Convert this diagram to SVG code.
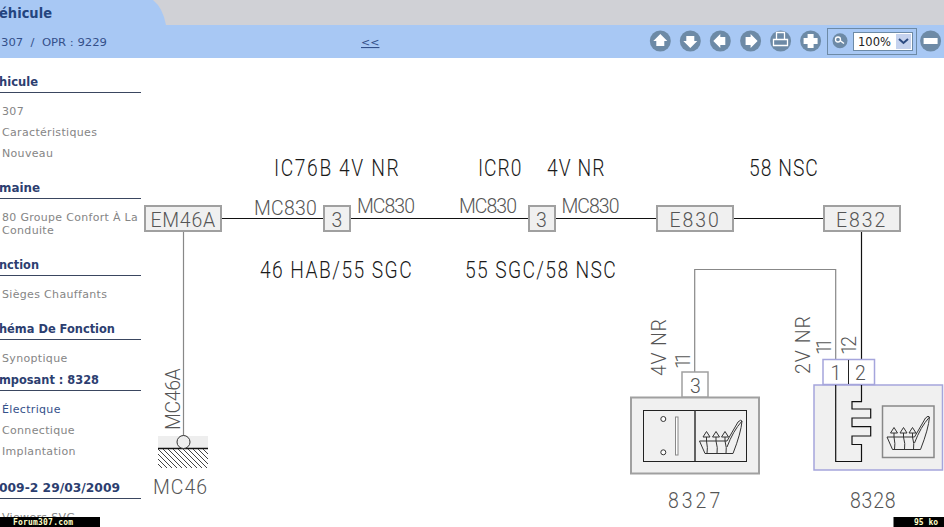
<svg xmlns="http://www.w3.org/2000/svg" width="944" height="527" viewBox="0 0 944 527">
<style>
.side{font-family:"DejaVu Sans",sans-serif;font-size:11px;fill:#858585;letter-spacing:.33px}
.head{font-family:"DejaVu Sans",sans-serif;font-size:11.500px;font-weight:bold;fill:#2c3e70}
.rule{stroke:#3a4660;stroke-width:1;fill:none}
.t{font-family:Roboto,"Liberation Sans",sans-serif;font-weight:300;fill:#1a1a1a;font-size:23.500px}
.g{font-family:Roboto,"Liberation Sans",sans-serif;font-weight:300;fill:#555;font-size:20.500px}
.box{fill:#f0f0f0;stroke:#a0a0a0;stroke-width:2}
.pin{fill:#fff;stroke:#a0a0a0;stroke-width:1.5}
.w{stroke:#111;stroke-width:1.2;fill:none}
.wg{stroke:#888;stroke-width:1.2;fill:none}
.ic{fill:#6d8aa6}
.icf{fill:#fff}
.bar{font-family:"DejaVu Sans Mono",monospace;font-size:8px;font-weight:bold;fill:#ffffc8}
.seat{fill:none;stroke:#333;stroke-width:1}
</style>
<defs>
<clipPath id="hatchclip"><rect x="158" y="449" width="50" height="19"/></clipPath>
<g id="seat">
<path class="seat" d="M699.500 441H727L738 422Q741 419 742 421Q741 433 733 453.500H705Z"/>
<path class="seat" d="M727 447Q733 431 742 421"/>
<path class="seat" d="M706.500 437V441Q708 448 707 453.500M716 437V441Q718 448 717 453.500M725 437V441Q727 448 726 453.500"/>
<path class="seat" d="M706.500 431.500L710 437H703ZM716 431.500L719.500 437H712.500ZM725 431.500L728.500 437H721.500Z"/>
</g>
</defs>
<rect width="944" height="527" fill="#fff"/>
<g id="banner">
<rect y="0" width="944" height="25" fill="#d0d1d6"/>
<path d="M0 0H153Q163 8 166 25V58H0Z" fill="#a8c8f4"/>
<rect y="25" width="944" height="33" fill="#a8c8f4"/>
<text x="-1" y="18" font-family="DejaVu Sans,sans-serif" font-size="14.500" font-weight="bold" fill="#24457f" textLength="53" lengthAdjust="spacingAndGlyphs">éhicule</text>
<text x="1" y="46" font-family="DejaVu Sans,sans-serif" font-size="11" fill="#34508a" xml:space="preserve" textLength="106" lengthAdjust="spacingAndGlyphs">307  /  OPR : 9229</text>
<text x="361" y="46" font-family="DejaVu Sans,sans-serif" font-size="11" fill="#34508a" text-decoration="underline">&lt;&lt;</text>
</g>
<g id="toolbar">
<circle class="ic" cx="660.300" cy="41" r="10.500"/><path class="icf" d="M660.300 34l7 7h-3v5h-8v-5h-3z"/>
<circle class="ic" cx="690.300" cy="41" r="10.500"/><path class="icf" d="M690.300 48l-7-7h3v-5h8v5h3z"/>
<circle class="ic" cx="720.300" cy="41" r="10.500"/><path class="icf" d="M713.300 41l7-7v3h5v8h-5v3z"/>
<circle class="ic" cx="750.600" cy="41" r="10.500"/><path class="icf" d="M757.600 41l-7-7v3h-5v8h5v3z"/>
<circle class="ic" cx="780.600" cy="41" r="10.500"/><path d="M776.500 32.500h8v7h-8zM773.500 39.500h14v6h-14z" fill="none" stroke="#fff" stroke-width="1.300"/>
<circle class="ic" cx="810.600" cy="41" r="10.500"/><path class="icf" d="M807.600 34h6v4h4v6h-4v4h-6v-4h-4v-6h4z"/>
<rect x="827.500" y="28.500" width="89" height="26" fill="none" stroke="#6d8aa6"/>
<circle class="ic" cx="840" cy="40.700" r="7.500"/><circle cx="838" cy="39.500" r="2.500" fill="none" stroke="#fff" stroke-width="1.300"/><path d="M840 40.500l4 3" stroke="#fff" stroke-width="1.500"/>
<rect x="853.500" y="32.500" width="59" height="18" fill="#fff" stroke="#6d8aa6"/>
<text x="858" y="46" font-family="DejaVu Sans,sans-serif" font-size="11.500" fill="#222">100%</text>
<rect x="896" y="34" width="15" height="15" fill="#c5d2ee"/>
<path d="M899 39l4.500 4 4.500-4" fill="none" stroke="#2c4a80" stroke-width="2"/>
<circle class="ic" cx="930.600" cy="41" r="10.500"/><rect class="icf" x="923.600" y="38" width="14" height="6"/>
</g>
<g id="sidebar">
<text class="head" x="-1" y="86" textLength="39" lengthAdjust="spacingAndGlyphs">hicule</text><path class="rule" d="M0 92.500H141"/>
<text class="side" x="2" y="115">307</text>
<text class="side" x="2" y="136">Caractéristiques</text>
<text class="side" x="2" y="157">Nouveau</text>
<text class="head" x="-1" y="192" textLength="41" lengthAdjust="spacingAndGlyphs">maine</text><path class="rule" d="M0 198.500H141"/>
<text class="side" x="2" y="221" textLength="136" lengthAdjust="spacingAndGlyphs">80 Groupe Confort À La</text>
<text class="side" x="2" y="234">Conduite</text>
<text class="head" x="-1" y="269" textLength="40" lengthAdjust="spacingAndGlyphs">nction</text><path class="rule" d="M0 275.500H141"/>
<text class="side" x="2" y="298">Sièges Chauffants</text>
<text class="head" x="-1" y="333" textLength="116" lengthAdjust="spacingAndGlyphs">héma De Fonction</text><path class="rule" d="M0 339.500H141"/>
<text class="side" x="2" y="362">Synoptique</text>
<text class="head" x="-1" y="384" textLength="100" lengthAdjust="spacingAndGlyphs">mposant : 8328</text><path class="rule" d="M0 390.500H141"/>
<text class="side" x="2" y="413" style="fill:#34508a">Électrique</text>
<text class="side" x="2" y="434">Connectique</text>
<text class="side" x="2" y="455">Implantation</text>
<text class="head" x="-1" y="492" textLength="121" lengthAdjust="spacingAndGlyphs">009-2 29/03/2009</text><path class="rule" d="M0 498.500H141"/>
<text class="side" x="2" y="521">Viewers SVG</text>
</g>
<g id="connectors">
<path class="w" d="M222 218.500H323M351 218.500H528M556 218.500H656M734 218.500H823"/>
<path class="wg" d="M183.500 232V436"/>
<path class="wg" d="M694.700 372V269.500H835.700V359"/>
<path class="w" d="M861.500 232V359"/>
</g>
<g id="labels">
<text class="t" transform="translate(274 176) scale(.82 1)" textLength="152" lengthAdjust="spacing">IC76B 4V NR</text>
<text class="t" transform="translate(478 176) scale(.82 1)" textLength="53" lengthAdjust="spacing">ICR0</text>
<text class="t" transform="translate(547 176) scale(.82 1)" textLength="70" lengthAdjust="spacing">4V NR</text>
<text class="t" transform="translate(749 176) scale(.82 1)" textLength="84" lengthAdjust="spacing">58 NSC</text>
<text class="t" transform="translate(260 278) scale(.82 1)" textLength="185" lengthAdjust="spacing">46 HAB/55 SGC</text>
<text class="t" transform="translate(465 278) scale(.82 1)" textLength="184" lengthAdjust="spacing">55 SGC/58 NSC</text>
<text class="g" transform="translate(254 215) scale(.95 1)" textLength="66" lengthAdjust="spacing">MC830</text>
<text class="g" transform="translate(357 213) scale(.95 1)" textLength="61" lengthAdjust="spacing">MC830</text>
<text class="g" transform="translate(459 213) scale(.95 1)" textLength="61" lengthAdjust="spacing">MC830</text>
<text class="g" transform="translate(561.500 213) scale(.95 1)" textLength="61" lengthAdjust="spacing">MC830</text>
<text class="g" transform="translate(180 430) rotate(-90) scale(.95 1)" textLength="65" lengthAdjust="spacing">MC46A</text>
<text class="g" transform="translate(153 494) scale(.95 1)" textLength="57" lengthAdjust="spacing">MC46</text>
<text class="g" transform="translate(666 376) rotate(-90) scale(.95 1)" textLength="60" lengthAdjust="spacing">4V NR</text>
<text class="g" transform="translate(690 369) rotate(-90) scale(.95 1)" textLength="18" lengthAdjust="spacing">11</text>
<text class="g" transform="translate(810 374) rotate(-90) scale(.95 1)" textLength="61" lengthAdjust="spacing">2V NR</text>
<text class="g" transform="translate(830.500 355) rotate(-90) scale(.95 1)" textLength="18" lengthAdjust="spacing">11</text>
<text class="g" transform="translate(856 355) rotate(-90) scale(.95 1)" textLength="20" lengthAdjust="spacing">12</text>
<text class="g" transform="translate(668 508.300) scale(.95 1.040)" textLength="55" lengthAdjust="spacing">8327</text>
<text class="g" transform="translate(850 508.300) scale(.95 1.040)" textLength="48" lengthAdjust="spacing">8328</text>
</g>
<g id="EM46A"><rect class="box" x="145" y="206" width="76" height="25"/><text class="g" transform="translate(150.500 227) scale(.95 1)" textLength="68" lengthAdjust="spacing">EM46A</text></g>
<g id="c3a"><rect class="box" x="324" y="206" width="26" height="25"/><text class="g" transform="translate(331.500 227) scale(.95 1)">3</text></g>
<g id="c3b"><rect class="box" x="529" y="206" width="26" height="25"/><text class="g" transform="translate(536 227) scale(.95 1)">3</text></g>
<g id="E830"><rect class="box" x="657" y="206" width="76" height="25"/><text class="g" transform="translate(669.500 227) scale(.95 1)" textLength="52" lengthAdjust="spacing">E830</text></g>
<g id="E832"><rect class="box" x="824" y="206" width="76" height="25"/><text class="g" transform="translate(836 227) scale(.95 1)" textLength="52" lengthAdjust="spacing">E832</text></g>
<g id="MC46">
<rect x="158" y="436" width="50" height="13" fill="#eee"/>
<path d="M158 448.500H208" stroke="#111" stroke-width="1.500"/>
<g clip-path="url(#hatchclip)"><path d="M138 449l20 20M143 449l20 20M148 449l20 20M153 449l20 20M158 449l20 20M163 449l20 20M168 449l20 20M173 449l20 20M178 449l20 20M183 449l20 20M188 449l20 20M193 449l20 20M198 449l20 20M203 449l20 20" stroke="#444" stroke-width="1"/></g>
<circle cx="183.500" cy="442" r="6.500" fill="#eee" stroke="#333"/>
</g>
<g id="n8327">
<rect x="631" y="397.500" width="128" height="76" fill="#f0f0f0" stroke="#a0a0a0" stroke-width="2"/>
<rect class="pin" x="682" y="372" width="26" height="25"/>
<text class="g" transform="translate(690 392.700) scale(.95 1)">3</text>
<rect x="643.500" y="410.500" width="103" height="51" fill="none" stroke="#222"/><path d="M695 410V461" stroke="#333" stroke-width="1.500"/>
<circle cx="663.300" cy="419" r="2.500" fill="#fff" stroke="#333"/><circle cx="663.300" cy="452.300" r="2.500" fill="#fff" stroke="#333"/>
<rect x="675.500" y="417" width="2.500" height="38" fill="#fff" stroke="#888"/>
<use href="#seat"/>
</g>
<g id="n8328">
<rect x="814" y="385" width="128.500" height="85" fill="#f0f0f0" stroke="#a5a5dc" stroke-width="1.500"/>
<rect x="823" y="359.500" width="51.500" height="25" fill="#fff" stroke="#a5a5dc" stroke-width="1.500"/>
<path d="M848.500 360V384" stroke="#222"/>
<text class="g" transform="translate(830.500 380) scale(.95 1)">1</text><text class="g" transform="translate(855 380) scale(.95 1)">2</text>
<path class="w" d="M835.700 385V461.500H861.500V444.500H852V436H870.700V426.700H852V418H870.700V409H852V401.700H861.500V385"/>
<rect x="882.500" y="406" width="51.500" height="51.500" fill="none" stroke="#888" stroke-width="1.500"/>
<use href="#seat" x="187.500" y="-4"/>
</g>
<g id="footer">
<rect x="0" y="517" width="100" height="10" fill="#000"/>
<text class="bar" x="13" y="525" textLength="60">Forum307.com</text>
<rect x="893.500" y="517" width="50.500" height="10" fill="#000"/>
<text class="bar" x="914" y="525" textLength="24">95 ko</text>
</g>
</svg>
